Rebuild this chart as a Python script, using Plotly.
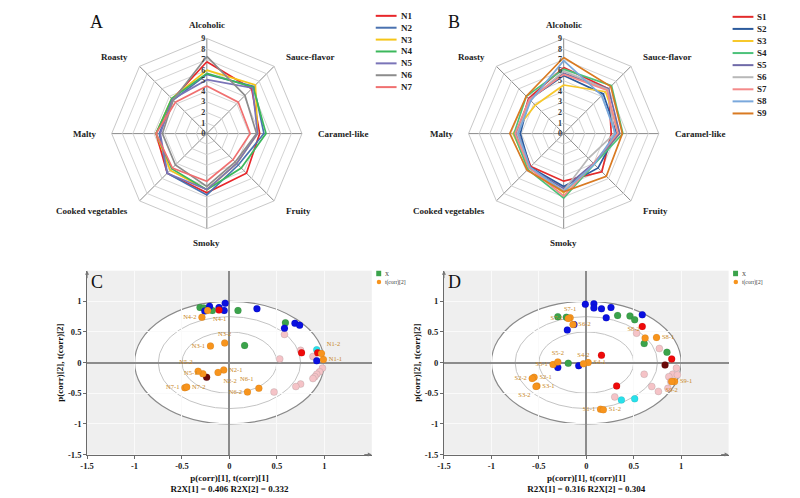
import math
import plotly.graph_objs as go

# ---- sensory radar data (panels A and B) ----
categories = ["Alcoholic", "Sauce-flavor", "Caramel-like", "Fruity",
              "Smoky", "Cooked vegetables", "Malty", "Roasty"]

n_names = ["N1", "N2", "N3", "N4", "N5", "N6", "N7"]
n1 = [6.8, 6.0, 5.0, 5.3, 5.6, 5.3, 4.8, 4.6]
n2 = [5.6, 6.3, 5.4, 4.2, 5.8, 5.3, 4.5, 4.5]
n3 = [6.0, 6.5, 4.8, 4.0, 5.3, 4.9, 4.8, 4.7]
n4 = [5.7, 6.2, 5.6, 4.6, 5.3, 4.7, 4.8, 4.7]
n5 = [5.1, 6.1, 4.8, 4.0, 5.3, 5.3, 4.4, 4.6]
n6 = [7.3, 5.1, 4.7, 3.8, 5.0, 4.2, 4.2, 4.5]
n7 = [4.5, 4.2, 4.1, 3.5, 4.5, 4.6, 4.8, 4.2]
n_colors = ["#e8262a", "#4a72b0", "#f5c518", "#3cb85c", "#7a74b8", "#8c8c8c", "#f07070"]

s_names = ["S1", "S2", "S3", "S4", "S5", "S6", "S7", "S8", "S9"]
s1 = [6.25, 6.0, 4.5, 5.1, 4.5, 4.4, 4.3, 4.7]
s2 = [5.5, 5.3, 5.0, 4.6, 5.0, 4.5, 4.1, 4.6]
s3 = [4.6, 5.6, 5.3, 4.0, 5.6, 4.6, 4.8, 3.8]
s4 = [6.1, 6.4, 5.6, 4.1, 6.1, 4.8, 4.7, 5.0]
s5 = [5.7, 6.0, 5.3, 4.0, 5.2, 4.6, 4.5, 4.6]
s6 = [5.9, 5.9, 4.8, 3.3, 5.4, 4.6, 4.4, 4.5]
s7 = [5.6, 5.8, 5.1, 4.0, 5.9, 4.6, 4.6, 4.6]
s8 = [6.9, 5.1, 4.9, 4.1, 5.5, 4.5, 4.3, 4.4]
s9 = [7.2, 6.3, 5.55, 5.7, 5.5, 4.9, 5.1, 5.0]
s_colors = ["#e32b2b", "#2b5a9c", "#f7c82b", "#4cc27a", "#6f6aa8",
            "#b8b8b8", "#f48a8a", "#7aa8dc", "#d97a22"]

# ---- correlation loading data (panel C) ----
c_pink_x = [0.58, 0.75, 0.53, 0.88, 0.98, 0.95, 0.92, 0.90, 0.88, 0.75, 0.70, 0.47]
c_pink_y = [0.46, 0.20, 0.06, 0.10, -0.09, -0.15, -0.19, -0.23, -0.26, -0.35, -0.39, -0.48]
c_green_x = [-0.31, -0.27, -0.18, 0.09, 0.59, 0.16]
c_green_y = [0.90, 0.89, 0.85, 0.85, 0.65, 0.28]
c_blue_x = [-0.26, -0.21, -0.11, -0.045, -0.055, 0.29, 0.58, 0.69, 0.74, 0.92]
c_blue_y = [0.84, 0.92, 0.90, 0.97, 0.85, 0.88, 0.56, 0.64, 0.61, 0.03]
c_red_x = [-0.11, 0.76, 0.93]
c_red_y = [0.86, 0.16, 0.16]
c_cyan_x = [0.92]
c_cyan_y = [0.21]
c_dark_x = [-0.24]
c_dark_y = [-0.24]
c_obs = ["N1-1", "N1-2", "N2-1", "N2-2", "N3-1", "N3-2", "N4-1",
         "N4-2", "N5-1", "N5-2", "N6-1", "N6-2", "N7-1", "N7-2"]
c_obs_x = [0.99, 0.97, -0.06, -0.12, -0.20, -0.05, -0.23,
           -0.29, -0.28, -0.33, 0.31, 0.19, -0.47, -0.45]
c_obs_y = [0.05, 0.15, -0.12, -0.16, 0.27, 0.32, 0.85,
           0.74, -0.18, -0.14, -0.42, -0.48, -0.41, -0.40]
c_obs_pos = ["middle right", "top right", "middle right", "bottom right",
             "middle left", "top center", "bottom right", "middle left",
             "middle left", "top left", "top left", "middle left",
             "middle left", "middle right"]

# ---- correlation loading data (panel D) ----
d_pink_x = [0.53, 0.77, 0.95, 0.91, 0.96, 0.87, 0.61, 0.69, 0.76, 0.30, 0.86, 0.89]
d_pink_y = [0.48, 0.23, -0.09, -0.19, -0.20, -0.23, -0.19, -0.39, -0.47, -0.56, -0.42, -0.31]
d_green_x = [-0.30, -0.21, 0.33, 0.46, 0.51, 0.61, 0.85, -0.19]
d_green_y = [0.75, 0.74, 0.77, 0.76, 0.70, 0.31, 0.17, -0.01]
d_blue_x = [-0.01, 0.08, 0.08, 0.16, 0.26, 0.21, 0.59, -0.13, -0.20, -0.30, -0.08]
d_blue_y = [0.95, 0.96, 0.89, 0.88, 0.90, 0.73, 0.78, 0.62, 0.53, -0.08, -0.05]
d_red_x = [0.59, 0.90, 0.16, 0.32]
d_red_y = [0.59, 0.06, 0.12, -0.38]
d_cyan_x = [0.37, 0.51]
d_cyan_y = [-0.61, -0.59]
d_dark_x = [0.83]
d_dark_y = [-0.04]
d_obs = ["S1-1", "S1-2", "S2-1", "S2-2", "S3-1", "S3-2", "S4-1", "S4-2",
         "S5-1", "S5-2", "S6-2", "S7-1", "S7-2", "S8-1", "S8-2", "S9-1", "S9-2"]
d_obs_x = [0.15, 0.18, -0.55, -0.57, -0.52, -0.53, 0.02, -0.03,
           -0.35, -0.30, -0.14, -0.17, -0.19, 0.74, 0.62, 0.93, 0.90]
d_obs_y = [-0.76, -0.77, -0.24, -0.26, -0.38, -0.39, 0.0, -0.02,
           -0.03, 0.01, 0.62, 0.73, 0.72, 0.41, 0.40, -0.31, -0.31]
d_obs_pos = ["middle left", "middle right", "middle right", "middle left",
             "middle right", "bottom left", "middle right", "top center",
             "middle left", "top center", "middle right", "top center",
             "middle left", "middle right", "top left", "middle right",
             "bottom center"]

tick_vals = [-1.5, -1, -0.5, 0, 0.5, 1]
tick_text = ["-1.5", "-1", "-0.5", "0", "0.5", "1"]

SERIF = "Liberation Serif, Times New Roman, serif"
W, H = 800, 498

fig = go.Figure()


def px(x):
    return x / W


def py(y):
    return 1 - y / H


# Radar panels
def add_radar(series, colors, subplot):
    for vals, col in zip(series, colors):
        fig.add_trace(go.Scatterpolar(
            r=vals + [vals[0]],
            theta=categories + [categories[0]],
            mode="lines",
            line=dict(color=col, width=1.7),
            subplot=subplot,
            showlegend=False,
            hoverinfo="skip"
        ))


add_radar([n1, n2, n3, n4, n5, n6, n7], n_colors, "polar")
add_radar([s1, s2, s3, s4, s5, s6, s7, s8, s9], s_colors, "polar2")


# Scatter panels
def add_points(xs, ys, col, xa, ya, line_col="rgba(0,0,0,0.12)"):
    fig.add_trace(go.Scatter(
        x=xs, y=ys, xaxis=xa, yaxis=ya, mode="markers",
        marker=dict(color=col, size=7, line=dict(color=line_col, width=0.6)),
        showlegend=False, hoverinfo="skip"
    ))


def add_obs(xs, ys, names, pos, xa, ya):
    fig.add_trace(go.Scatter(
        x=xs, y=ys, xaxis=xa, yaxis=ya, mode="markers+text",
        text=names, textposition=pos,
        textfont=dict(family=SERIF, size=6.5, color="#c8861e"),
        marker=dict(color="#f7941d", size=7, line=dict(color="rgba(0,0,0,0.1)", width=0.6)),
        showlegend=False, hoverinfo="skip"
    ))


add_points(c_pink_x, c_pink_y, "#f5c3c7", "x", "y", "rgba(120,120,120,0.35)")
add_points(c_green_x, c_green_y, "#3ba34b", "x", "y")
add_points(c_blue_x, c_blue_y, "#0a10e0", "x", "y")
add_points(c_cyan_x, c_cyan_y, "#28e0ea", "x", "y")
add_points(c_red_x, c_red_y, "#ee0a0a", "x", "y")
add_points(c_dark_x, c_dark_y, "#6a0a0a", "x", "y")
add_obs(c_obs_x, c_obs_y, c_obs, c_obs_pos, "x", "y")

add_points(d_pink_x, d_pink_y, "#f5c3c7", "x2", "y2", "rgba(120,120,120,0.35)")
add_points(d_green_x, d_green_y, "#3ba34b", "x2", "y2")
add_points(d_blue_x, d_blue_y, "#0a10e0", "x2", "y2")
add_points(d_cyan_x, d_cyan_y, "#28e0ea", "x2", "y2")
add_points(d_red_x, d_red_y, "#ee0a0a", "x2", "y2")
add_points(d_dark_x, d_dark_y, "#6a0a0a", "x2", "y2")
add_obs(d_obs_x, d_obs_y, d_obs, d_obs_pos, "x2", "y2")

shapes = []
annotations = []

# concentric ellipses (r = 1, 0.75, 0.5) in both loading plots
for xr, yr in [("x", "y"), ("x2", "y2")]:
    shapes.append(dict(type="circle", xref=xr, yref=yr, x0=-1, x1=1, y0=-1, y1=1,
                       fillcolor="white", line=dict(color="#8a8a8a", width=1.2), layer="below"))
    for rad in [0.75, 0.5]:
        shapes.append(dict(type="circle", xref=xr, yref=yr, x0=-rad, x1=rad, y0=-rad, y1=rad,
                           line=dict(color="#c4c4c4", width=1), layer="below"))
    # arrow heads on the axes
    annotations.append(dict(x=-1.5, y=1.5, xref=xr, yref=yr, ax=0, ay=9, text="",
                            showarrow=True, arrowhead=2, arrowsize=0.8, arrowwidth=1,
                            arrowcolor="#777"))
    annotations.append(dict(x=1.5, y=-1.5, xref=xr, yref=yr, ax=-9, ay=0, text="",
                            showarrow=True, arrowhead=2, arrowsize=0.8, arrowwidth=1,
                            arrowcolor="#777"))

# category names around each radar, anchored on the side away from the centre
for cx in [201.7, 561.7]:
    cy = 135
    for i, cat in enumerate(categories):
        ang = math.radians(i * 360 / len(categories))
        sx, cs = math.sin(ang), math.cos(ang)
        xanc = "left" if sx > 0.1 else ("right" if sx < -0.1 else "center")
        annotations.append(dict(x=px(cx + 110 * sx), y=py(cy - 110 * cs),
                                xref="paper", yref="paper", text="<b>%s</b>" % cat,
                                showarrow=False, xanchor=xanc, yanchor="middle",
                                font=dict(family=SERIF, size=9, color="#222")))


# hand-made legends so the rows stay tight like the original
def line_legend(names, colors, x_px, y0_px, step):
    for i, (nm, col) in enumerate(zip(names, colors)):
        yy = y0_px + i * step
        shapes.append(dict(type="line", xref="paper", yref="paper",
                           x0=px(x_px), x1=px(x_px + 21), y0=py(yy), y1=py(yy),
                           line=dict(color=col, width=2)))
        annotations.append(dict(x=px(x_px + 23), y=py(yy), xref="paper", yref="paper",
                                text="<b>%s</b>" % nm, showarrow=False, xanchor="left",
                                yanchor="middle", font=dict(family=SERIF, size=9, color="#222")))


line_legend(n_names, n_colors, 372, 16, 12.0)
line_legend(s_names, s_colors, 732, 17, 12.2)

for dx in [0, 360]:
    shapes.append(dict(type="rect", xref="paper", yref="paper",
                       x0=px(372.5 + dx), x1=px(377.5 + dx), y0=py(279), y1=py(273.5),
                       fillcolor="#3ba34b", line=dict(width=0)))
    shapes.append(dict(type="circle", xref="paper", yref="paper",
                       x0=px(373 + dx), x1=px(377.5 + dx), y0=py(287.2), y1=py(282.7),
                       fillcolor="#f7941d", line=dict(width=0)))
    annotations.append(dict(x=px(379 + dx), y=py(276.3), xref="paper", yref="paper",
                            text="X", showarrow=False, xanchor="left", yanchor="middle",
                            font=dict(family=SERIF, size=5.5, color="#333")))
    annotations.append(dict(x=px(379 + dx), y=py(285), xref="paper", yref="paper",
                            text="t(corr)[2]", showarrow=False, xanchor="left", yanchor="middle",
                            font=dict(family=SERIF, size=5.5, color="#333")))

# panel letters
for letter, x_px_, y_px_ in [("A", 90, 22), ("B", 451, 22), ("C", 91, 285), ("D", 451, 285)]:
    annotations.append(dict(x=px(x_px_), y=py(y_px_), xref="paper", yref="paper",
                            text=letter, showarrow=False, xanchor="center", yanchor="middle",
                            font=dict(family=SERIF, size=18, color="#111")))

polar_common = dict(
    gridshape="linear",
    bgcolor="white",
    angularaxis=dict(direction="clockwise", rotation=90, gridcolor="#8a8a8a",
                     showline=True, linecolor="#c8c8c8", ticks="",
                     showticklabels=False),
    radialaxis=dict(range=[0, 9], dtick=1, angle=90, tickangle=90, gridcolor="#d4d4d4",
                    showline=False, ticks="", side="counterclockwise",
                    tickfont=dict(family=SERIF, size=8, color="#333", weight="bold"))
)

axis_common = dict(
    range=[-1.5, 1.5], tickmode="array", tickvals=tick_vals, ticktext=tick_text,
    showgrid=True, gridcolor="#fafafa", gridwidth=1,
    zeroline=True, zerolinecolor="#8c8c8c", zerolinewidth=1.5,
    showline=True, linecolor="#6a6a6a", linewidth=1,
    ticks="outside", ticklen=3, tickcolor="#6a6a6a",
    tickfont=dict(family=SERIF, size=8.5, color="#222", weight="bold"),
)

xtitle_font = dict(family=SERIF, size=9, color="#111", weight="bold")

fig.update_layout(
    width=W, height=H,
    margin=dict(l=0, r=0, t=0, b=0),
    paper_bgcolor="white",
    plot_bgcolor="#efefef",
    showlegend=False,
    polar=dict(domain=dict(x=[0.132, 0.372], y=[0.536, 0.922]), **polar_common),
    polar2=dict(domain=dict(x=[0.582, 0.822], y=[0.536, 0.922]), **polar_common),
    xaxis=dict(domain=[0.101, 0.46], anchor="y",
               title=dict(text="p(corr)[1], t(corr)[1]<br>R2X[1] = 0.406 R2X[2] = 0.332",
                          font=xtitle_font, standoff=4), **axis_common),
    yaxis=dict(domain=[0.078, 0.451], anchor="x",
               title=dict(text="p(corr)[2], t(corr)[2]", font=xtitle_font, standoff=2),
               **axis_common),
    xaxis2=dict(domain=[0.551, 0.91], anchor="y2",
                title=dict(text="p(corr)[1], t(corr)[1]<br>R2X[1] = 0.316 R2X[2] = 0.304",
                           font=xtitle_font, standoff=4), **axis_common),
    yaxis2=dict(domain=[0.078, 0.451], anchor="x2",
                title=dict(text="p(corr)[2], t(corr)[2]", font=xtitle_font, standoff=2),
                **axis_common),
    shapes=shapes,
    annotations=annotations,
)

# the page body has an 8px default margin; drop it so the figure sits at (0, 0)
fig.write_html("out.html", config={"displayModeBar": False},
               post_script="document.body.style.margin = '0';")
